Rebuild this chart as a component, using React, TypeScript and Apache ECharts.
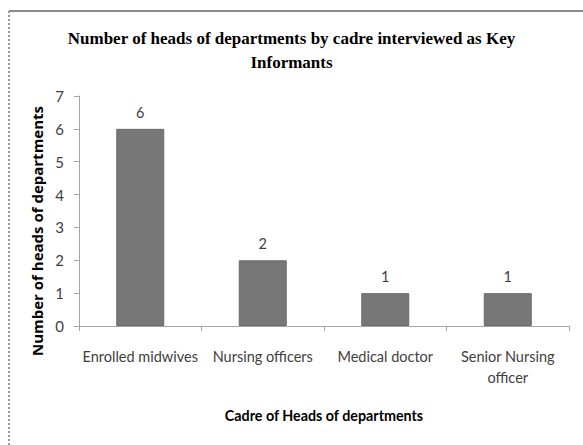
import React, { useEffect, useRef } from "react";
import * as echarts from "echarts";

const categories = ["Enrolled midwives", "Nursing officers", "Medical doctor", "Senior Nursing\nofficer"];
const values = [6, 2, 1, 1];
const yTicks = { min: 0, max: 7, interval: 1 };
const titleText = "Number of heads of departments by cadre interviewed as Key\nInformants";
const xName = "Cadre of Heads of departments";
const yName = "Number of heads of departments";

export default function App() {
  const ref = useRef<HTMLDivElement>(null);
  useEffect(() => {
    document.body.style.margin = "0";
    const chart = echarts.init(ref.current!, null, { renderer: "svg" });
    chart.setOption({
      animation: false,
      backgroundColor: "#ffffff",
      title: {
        text: titleText,
        left: "center",
        top: 21,
        textStyle: {
          fontFamily: "Liberation Serif",
          fontWeight: "bold",
          fontSize: 17,
          lineHeight: 24,
          color: "#000000",
        },
      },
      graphic: [
        { type: "line", shape: { x1: 9, y1: 11, x2: 583, y2: 11 }, style: { stroke: "#8a8a8a", lineWidth: 2 } },
        { type: "line", shape: { x1: 9, y1: 11, x2: 9, y2: 445 }, style: { stroke: "#9a9a9a", lineWidth: 2, lineDash: [2, 2] } },
      ],
      grid: { left: 79, top: 96, right: 14, bottom: 119, containLabel: false },
      xAxis: {
        type: "category",
        data: categories,
        name: xName,
        nameLocation: "middle",
        nameGap: 82,
        nameTextStyle: { fontFamily: "Lato", fontWeight: "bold", fontSize: 14.3, color: "#000000" },
        axisLine: { lineStyle: { color: "#a6a6a6", width: 1 } },
        axisTick: { show: true, length: 5, lineStyle: { color: "#a6a6a6" } },
        axisLabel: {
          fontFamily: "Lato",
          fontSize: 14.5,
          color: "#404040",
          margin: 20,
          lineHeight: 21,
          interval: 0,
        },
      },
      yAxis: {
        type: "value",
        min: yTicks.min,
        max: yTicks.max,
        interval: yTicks.interval,
        name: yName,
        nameLocation: "middle",
        nameGap: 34,
        nameTextStyle: { fontFamily: "Open Sans", fontWeight: "bold", fontSize: 15, color: "#000000", padding: [0, 40, 0, 0] },
        axisLine: { show: true, lineStyle: { color: "#a6a6a6", width: 1 } },
        axisTick: { show: true, length: 5, lineStyle: { color: "#a6a6a6" } },
        splitLine: { show: false },
        axisLabel: { fontFamily: "Lato", fontSize: 15, color: "#404040", margin: 15 },
      },
      series: [
        {
          type: "bar",
          data: values,
          barWidth: 48,
          itemStyle: { color: "#777777", borderColor: "#6a6a6a", borderWidth: 1 },
          label: {
            show: true,
            position: "top",
            distance: 9,
            fontFamily: "Lato",
            fontSize: 14.5,
            color: "#404040",
          },
        },
      ],
    });
    return () => chart.dispose();
  }, []);
  return <div ref={ref} style={{ width: 583, height: 445 }} />;
}
